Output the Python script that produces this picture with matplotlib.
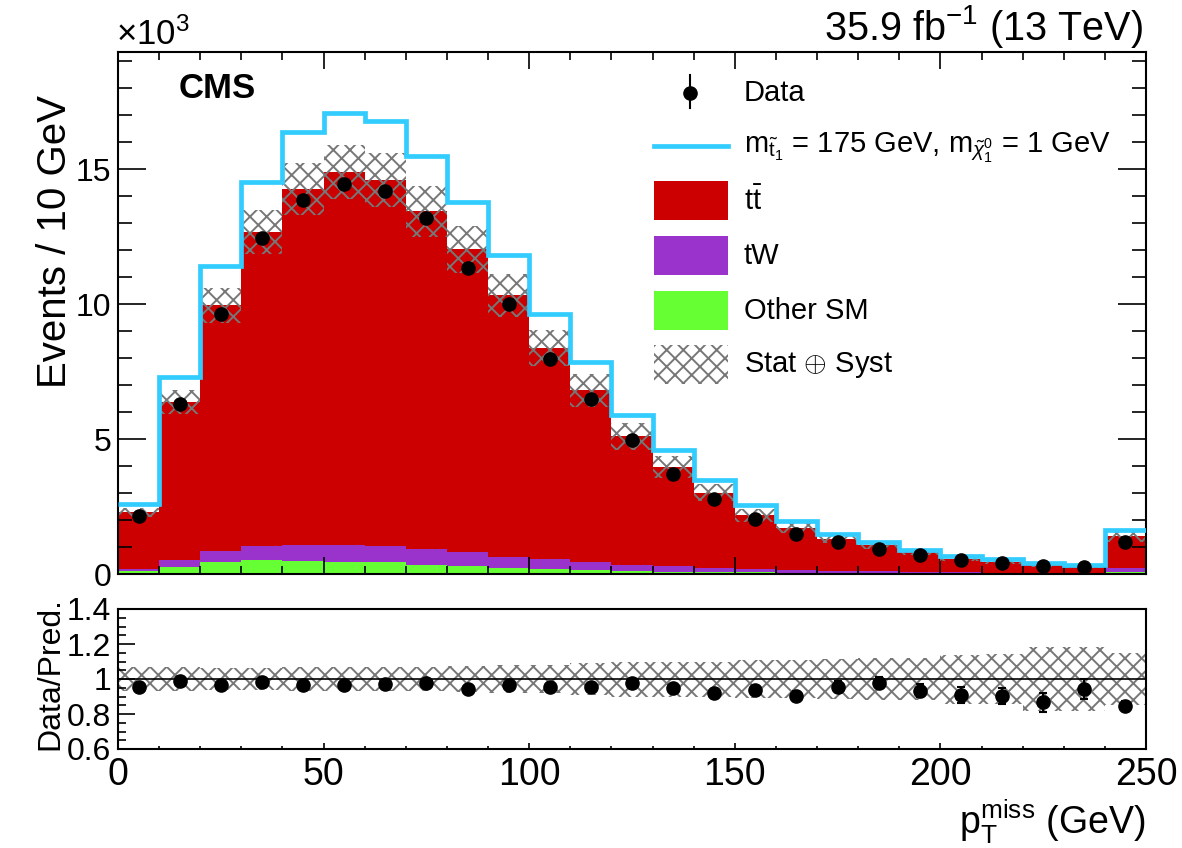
import numpy as np
import matplotlib
matplotlib.use("Agg")
import matplotlib.pyplot as plt
from matplotlib.patches import Rectangle
from matplotlib.lines import Line2D
from matplotlib.ticker import MultipleLocator

plt.rcParams['font.family'] = ['Liberation Sans', 'DejaVu Sans']
plt.rcParams['mathtext.fontset'] = 'custom'
plt.rcParams['mathtext.rm'] = 'Liberation Sans'
plt.rcParams['mathtext.it'] = 'Liberation Sans:italic'
plt.rcParams['mathtext.bf'] = 'Liberation Sans:bold'
plt.rcParams['mathtext.sf'] = 'Liberation Sans'
plt.rcParams['hatch.linewidth'] = 1.4

# ---------------- data (events in units of 10^3 per 10 GeV) ----------------
bin_edges = [0, 10, 20, 30, 40, 50, 60, 70, 80, 90, 100, 110, 120, 130, 140,
             150, 160, 170, 180, 190, 200, 210, 220, 230, 240, 250]
other_sm = [0.12, 0.27, 0.45, 0.51, 0.49, 0.43, 0.43, 0.35, 0.30, 0.24, 0.18, 0.14, 0.11,
            0.09, 0.07, 0.06, 0.05, 0.04, 0.035, 0.03, 0.025, 0.02, 0.015, 0.013, 0.06]
tw = [0.08, 0.24, 0.40, 0.52, 0.58, 0.64, 0.60, 0.56, 0.50, 0.40, 0.36, 0.29, 0.24,
      0.20, 0.16, 0.13, 0.10, 0.08, 0.06, 0.05, 0.04, 0.03, 0.025, 0.02, 0.15]
ttbar = [2.09, 5.87, 9.11, 11.64, 13.20, 13.83, 13.57, 12.54, 11.24, 9.69, 7.85, 6.38, 4.75,
         3.68, 2.79, 1.99, 1.54, 1.19, 0.975, 0.72, 0.505, 0.40, 0.29, 0.237, 1.20]
signal = [0.31, 0.92, 1.45, 1.87, 2.10, 2.18, 2.19, 2.05, 1.76, 1.51, 1.26, 1.05, 0.78,
          0.64, 0.46, 0.37, 0.27, 0.16, 0.12, 0.08, 0.09, 0.09, 0.08, 0.07, 0.23]
data = [2.15, 6.29, 9.65, 12.46, 13.86, 14.45, 14.21, 13.20, 11.35, 9.99, 7.96, 6.50, 4.95,
        3.72, 2.77, 2.03, 1.49, 1.17, 0.94, 0.70, 0.51, 0.39, 0.29, 0.25, 1.19]
rel_unc = [0.07, 0.07, 0.065, 0.065, 0.068, 0.068, 0.068, 0.07, 0.072, 0.078, 0.08, 0.09, 0.10,
           0.10, 0.10, 0.11, 0.11, 0.115, 0.12, 0.12, 0.14, 0.145, 0.185, 0.185, 0.15]
ratio = [0.956, 0.99, 0.967, 0.983, 0.967, 0.967, 0.97, 0.98, 0.945, 0.966, 0.953, 0.953, 0.98,
         0.947, 0.922, 0.937, 0.903, 0.956, 0.98, 0.933, 0.909, 0.903, 0.867, 0.943, 0.846]
ratio_err = [0.02, 0.013, 0.01, 0.009, 0.008, 0.008, 0.008, 0.009, 0.009, 0.01, 0.011, 0.012,
             0.014, 0.016, 0.019, 0.022, 0.026, 0.03, 0.033, 0.038, 0.044, 0.048, 0.055, 0.058, 0.028]

legend_labels = ["Data",
                 r"m$_{\tilde{\mathrm{t}}_1}$ = 175 GeV, m$_{\tilde{\chi}^0_1}$ = 1 GeV",
                 r"t$\bar{\mathrm{t}}$", "tW", "Other SM", r"Stat $\oplus$ Syst"]

# ---------------- styles ----------------
C_TT = '#CC0000'
C_TW = '#9933CC'
C_OTH = '#66FF33'
C_SIG = '#33CCFF'
C_HATCH = '#777777'
HATCH = 'xx'

W, H = 1182, 848
fig = plt.figure(figsize=(W / 100, H / 100), dpi=100)


def fx(x):
    return x / W


def fy(y):
    return 1 - y / H


ax1 = fig.add_axes([fx(118), fy(574), (1146 - 118) / W, (574 - 51.7) / H])
ax2 = fig.add_axes([fx(118), fy(749), (1146 - 118) / W, (749 - 609) / H])

edges = np.array(bin_edges, dtype=float)
centers = 0.5 * (edges[:-1] + edges[1:])
widths = np.diff(edges)
oth = np.array(other_sm)
tw_a = np.array(tw)
tt = np.array(ttbar)
total = oth + tw_a + tt
unc = np.array(rel_unc)

# stack
ax1.stairs(oth, edges, baseline=0, fill=True, color=C_OTH, lw=0, zorder=1)
ax1.stairs(oth + tw_a, edges, baseline=oth, fill=True, color=C_TW, lw=0, zorder=1)
ax1.stairs(total, edges, baseline=oth + tw_a, fill=True, color=C_TT, lw=0, zorder=1)
# uncertainty band
ax1.bar(centers, 2 * total * unc, bottom=total * (1 - unc), width=widths,
        facecolor='none', edgecolor=C_HATCH, linewidth=0, hatch=HATCH, zorder=2)
# signal stacked on SM
ax1.stairs(total + np.array(signal), edges, baseline=None, color=C_SIG, lw=3.4, zorder=3)
# data
ax1.plot(centers, data, 'o', color='black', ms=9.5, zorder=5, clip_on=False)

ax1.set_xlim(0, 250)
ax1.set_ylim(0, 19.36)
ax1.xaxis.set_major_locator(MultipleLocator(50))
ax1.xaxis.set_minor_locator(MultipleLocator(10))
ax1.yaxis.set_major_locator(MultipleLocator(5))
ax1.yaxis.set_minor_locator(MultipleLocator(1))
ax1.tick_params(which='both', direction='in', top=True, right=True, labelbottom=False,
                width=1.2, colors='black')
ax1.tick_params(axis='y', which='major', length=20, labelsize=23, pad=5)
ax1.tick_params(axis='y', which='minor', length=10)
ax1.tick_params(axis='x', which='major', length=12)
ax1.tick_params(axis='x', which='minor', length=6)
for s in ax1.spines.values():
    s.set_linewidth(1.5)

# ratio panel
ax2.bar(centers, 2 * unc, bottom=1 - unc, width=widths,
        facecolor='none', edgecolor=C_HATCH, linewidth=0, hatch=HATCH, zorder=1)
ax2.axhline(1.0, color='black', lw=1.2, zorder=2)
ax2.errorbar(centers, ratio, yerr=ratio_err, fmt='o', color='black', ms=9.5,
             elinewidth=1.5, capsize=3, capthick=1.5, zorder=4)
ax2.set_xlim(0, 250)
ax2.set_ylim(0.6, 1.4)
ax2.xaxis.set_major_locator(MultipleLocator(50))
ax2.xaxis.set_minor_locator(MultipleLocator(10))
ax2.yaxis.set_minor_locator(MultipleLocator(0.05))
ax2.set_yticks([0.6, 0.8, 1.0, 1.2, 1.4])
ax2.set_yticklabels(['0.6', '0.8', '1', '1.2', '1.4'])
ax2.tick_params(which='both', direction='in', width=1.2)
ax2.tick_params(axis='y', which='major', length=12, labelsize=23, pad=5)
ax2.tick_params(axis='y', which='minor', length=6)
ax2.tick_params(axis='x', which='major', length=4.5, labelsize=27, pad=6)
ax2.tick_params(axis='x', which='minor', length=2.2)
for s in ax2.spines.values():
    s.set_linewidth(1.5)

# ---------------- texts ----------------
fig.text(fx(1143), fy(40), r"35.9 fb$^{-1}$ (13 TeV)", ha='right', va='baseline', fontsize=28.5)
fig.text(fx(116), fy(45), r"$\times$10$^{3}$", ha='left', va='baseline', fontsize=25)
fig.text(fx(179), fy(89), "CMS", ha='left', va='center', fontsize=25, fontweight='bold')
fig.text(fx(55), fy(95), "Events / 10 GeV", rotation=90, ha='center', va='top', fontsize=29)
fig.text(fx(50), fy(597), "Data/Pred.", rotation=90, ha='center', va='top', fontsize=23)
fig.text(fx(1145), fy(797), r"p$_{\mathrm{T}}^{\mathrm{miss}}$ (GeV)", ha='right', va='top', fontsize=27)

# ---------------- legend (manual) ----------------
tf = fig.transFigure
# Data
fig.add_artist(Line2D([fx(690), fx(690)], [fy(75), fy(108)], color='black', lw=1.5, transform=tf))
fig.add_artist(Line2D([fx(690)], [fy(93)], marker='o', ms=9.5, color='black', transform=tf))
# signal
fig.add_artist(Line2D([fx(654), fx(728)], [fy(146), fy(146)], color=C_SIG, lw=3.4, transform=tf))
# boxes
box_tops = [181, 236, 291]
for top, col in zip(box_tops, [C_TT, C_TW, C_OTH]):
    fig.add_artist(Rectangle((fx(654), fy(top + 39)), 74 / W, 39 / H, transform=tf,
                             facecolor=col, edgecolor='none'))
fig.add_artist(Rectangle((fx(654), fy(384)), 74 / W, 39 / H, transform=tf,
                         facecolor='none', edgecolor=C_HATCH, lw=0, hatch=HATCH))
leg_y = [93, 148, 201, 256, 311, 365]
for yy, lab in zip(leg_y, legend_labels):
    fig.text(fx(744), fy(yy), lab, ha='left', va='center', fontsize=21)

fig.savefig("out.png", dpi=100)
